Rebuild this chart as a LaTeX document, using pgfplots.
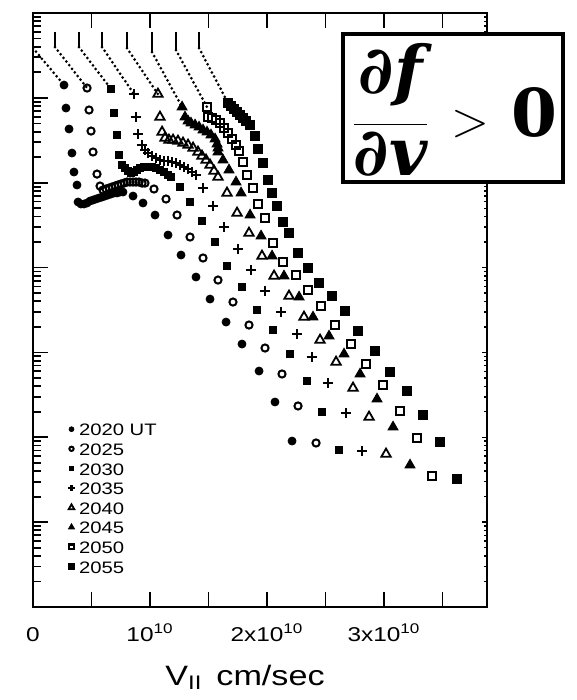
\documentclass[border=0pt]{standalone}
\usepackage{pgfplots}
\pgfplotsset{compat=1.18}
\usepackage{fontspec}
\setmainfont{Liberation Sans}
\newfontfamily\leroy[FakeStretch=1.22]{Liberation Sans}
\newfontfamily\eqfont{DejaVu Serif}
\begin{document}
\begin{tikzpicture}
\pgfplotsset{
  frame/.style={
    at={(16.5pt,-303.5pt)}, anchor=south west,
    scale only axis, width=227pt, height=297pt,
    xmin=0, xmax=3.88, ymin=0, ymax=7,
    axis line style={line width=1.3pt},
    tick align=inside,
    ytick={0,...,7}, yticklabels={},
    minor ytick={0.301,0.477,0.602,0.699,0.778,0.845,0.903,0.954,
      1.301,1.477,1.602,1.699,1.778,1.845,1.903,1.954,
      2.301,2.477,2.602,2.699,2.778,2.845,2.903,2.954,
      3.301,3.477,3.602,3.699,3.778,3.845,3.903,3.954,
      4.301,4.477,4.602,4.699,4.778,4.845,4.903,4.954,
      5.301,5.477,5.602,5.699,5.778,5.845,5.903,5.954,
      6.301,6.477,6.602,6.699,6.778,6.845,6.903,6.954},
  },
  bar/.style={forget plot, line width=1.4pt},
  dots/.style={forget plot, line width=1.5pt, line cap=round, dash pattern=on 0pt off 2.3pt},
}
% right-hand frame: short log ticks only
\begin{axis}[frame, hide x axis, axis y line*=right,
  major tick length=2.5pt, minor tick length=1.5pt,
  every tick/.style={line width=0.7pt}]
\end{axis}
% main frame with the eight time series
\begin{axis}[frame,
  ytick pos=left,
  xtick={0,0.5,...,3.5},
  xticklabels={0,,10\textsuperscript{10},,2x10\textsuperscript{10},,3x10\textsuperscript{10},},
  xtick pos=both,
  major tick length=7.5pt, minor tick length=4pt,
  every tick/.style={line width=0.9pt},
  xticklabel style={anchor=base, yshift=-17pt, font=\leroy\fontsize{10}{12}\selectfont},
  xlabel={V\textsubscript{II}\hspace{0.5em}cm/sec},
  xlabel style={at={(axis description cs:0.467,0)}, anchor=base, yshift=-39pt,
    font=\leroy\fontsize{14}{16}\selectfont},
  legend style={at={(axis cs:0.299,2.192)}, anchor=north west, draw=none, fill=none,
    inner sep=0pt, row sep=2pt, column sep=1.6pt,
    font=\leroy\fontsize{8.3}{10}\selectfont,
    nodes={inner sep=0.6pt, text height=6.6pt, text depth=0pt, anchor=west}},
  legend cell align=left,
  legend image code/.code={\draw[#1,/tikz/every mark/.append style={scale=0.6}] plot coordinates {(0pt,0pt)};},
]
% guide lines: short bar and dotted run-in to the first point of each series
\addplot[dots] coordinates {(0,6.587)(0.265,6.151)};
\addplot[bar] coordinates {(0.188,6.776)(0.188,6.599)};
\addplot[dots] coordinates {(0.188,6.599)(0.462,6.116)};
\addplot[bar] coordinates {(0.393,6.776)(0.393,6.599)};
\addplot[dots] coordinates {(0.393,6.599)(0.667,6.104)};
\addplot[bar] coordinates {(0.590,6.776)(0.590,6.599)};
\addplot[dots] coordinates {(0.590,6.599)(0.863,6.045)};
\addplot[bar] coordinates {(0.803,6.776)(0.803,6.587)};
\addplot[dots] coordinates {(0.803,6.587)(1.068,6.045)};
\addplot[bar] coordinates {(1.017,6.776)(1.017,6.540)};
\addplot[dots] coordinates {(1.017,6.540)(1.274,5.892)};
\addplot[bar] coordinates {(1.222,6.776)(1.222,6.564)};
\addplot[dots] coordinates {(1.222,6.564)(1.487,5.892)};
\addplot[bar] coordinates {(1.419,6.776)(1.419,6.587)};
\addplot[dots] coordinates {(1.419,6.587)(1.667,5.939)};

% 2020 UT
\addplot[only marks, mark=*, mark size=2.0pt] coordinates {
(0.265,6.151)(0.282,5.880)(0.308,5.633)(0.333,5.350)(0.350,5.126)(0.376,4.973)
(0.385,4.773)(0.410,4.749)(0.436,4.749)(0.462,4.761)(0.487,4.784)(0.513,4.796)
(0.538,4.808)(0.564,4.820)(0.590,4.831)(0.615,4.843)(0.641,4.855)(0.667,4.867)
(0.692,4.879)(0.718,4.879)(0.744,4.890)(0.769,4.890)
(0.855,4.843)(0.940,4.761)(1.043,4.619)(1.154,4.384)(1.265,4.148)(1.393,3.889)
(1.513,3.629)(1.650,3.358)(1.786,3.099)(1.932,2.781)(2.068,2.416)(2.214,1.956)};
\addlegendentry{2020 UT}
% 2025
\addplot[only marks, mark=o, mark size=1.8pt, line width=1pt] coordinates {
(0.462,6.116)(0.479,5.857)(0.496,5.609)(0.513,5.362)(0.547,5.102)(0.573,4.961)
(0.598,4.914)(0.624,4.926)(0.650,4.937)(0.675,4.949)(0.701,4.961)(0.726,4.973)
(0.752,4.985)(0.778,4.996)(0.803,5.008)(0.829,5.008)(0.855,5.008)(0.880,5.008)
(0.906,5.008)(0.932,4.996)(0.957,4.996)
(1.034,4.926)(1.137,4.808)(1.231,4.619)(1.342,4.360)(1.453,4.113)(1.581,3.853)
(1.709,3.594)(1.846,3.323)(1.983,3.052)(2.128,2.746)(2.265,2.369)(2.419,1.933)};
\addlegendentry{2025}
% 2030
\addplot[only marks, mark=square*, mark size=1.6pt] coordinates {
(0.667,6.104)(0.692,5.821)(0.718,5.562)(0.735,5.326)
(0.761,5.209)(0.786,5.173)(0.812,5.138)(0.838,5.114)(0.863,5.126)(0.889,5.150)
(0.915,5.173)(0.949,5.185)(0.983,5.185)(1.017,5.185)(1.051,5.173)(1.085,5.150)
(1.120,5.126)(1.154,5.091)(1.179,5.067)
(1.256,4.949)(1.342,4.773)(1.444,4.549)(1.556,4.301)(1.658,4.018)(1.786,3.771)
(1.915,3.500)(2.051,3.264)(2.197,2.981)(2.342,2.663)(2.470,2.298)(2.615,1.850)};
\addlegendentry{2030}
% 2035
\addplot[only marks, mark=+, mark size=2.6pt, line width=1.3pt] coordinates {
(0.863,6.045)(0.880,5.774)(0.897,5.574)
(0.932,5.444)(0.957,5.385)(0.983,5.350)(1.017,5.315)(1.051,5.291)(1.085,5.267)
(1.120,5.256)(1.154,5.256)(1.188,5.244)(1.222,5.232)(1.256,5.209)(1.291,5.185)
(1.325,5.161)(1.359,5.126)(1.393,5.091)
(1.453,4.937)(1.538,4.725)(1.632,4.478)(1.752,4.219)(1.863,3.971)(1.983,3.724)
(2.120,3.476)(2.256,3.217)(2.385,2.946)(2.521,2.640)(2.675,2.286)(2.812,1.838)};
\addlegendentry{2035}
% 2040
\addplot[only marks, mark=triangle, mark size=2.7pt, line width=0.9pt] coordinates {
(1.068,6.045)(1.085,5.774)
(1.103,5.597)(1.128,5.527)(1.162,5.503)(1.197,5.503)(1.239,5.491)(1.282,5.468)
(1.325,5.444)(1.368,5.409)(1.410,5.362)(1.444,5.315)(1.479,5.267)(1.513,5.209)
(1.547,5.138)(1.581,5.067)
(1.658,4.879)(1.744,4.643)(1.846,4.407)(1.957,4.136)(2.060,3.901)(2.188,3.665)
(2.316,3.417)(2.453,3.146)(2.590,2.887)(2.735,2.581)(2.872,2.239)(3.017,1.803)};
\addlegendentry{2040}
% 2045
\addplot[only marks, mark=triangle*, mark size=2.9pt] coordinates {
(1.274,5.892)
(1.299,5.774)(1.325,5.727)(1.350,5.703)(1.385,5.680)(1.419,5.656)(1.453,5.621)
(1.487,5.597)(1.521,5.562)(1.556,5.515)(1.573,5.456)(1.581,5.409)
(1.581,5.362)(1.624,5.267)(1.675,5.150)(1.735,5.008)(1.778,4.879)(1.855,4.619)
(1.949,4.372)(2.043,4.136)(2.145,3.901)(2.274,3.653)(2.393,3.417)(2.530,3.193)
(2.658,2.981)(2.795,2.746)(2.940,2.451)(3.077,2.121)(3.222,1.673)};
\addlegendentry{2045}
% 2050
\addplot[only marks, mark=square, mark size=1.9pt, line width=1.1pt] coordinates {
(1.487,5.892)
(1.496,5.774)(1.530,5.762)(1.564,5.739)(1.598,5.703)(1.632,5.645)(1.667,5.586)
(1.701,5.515)(1.735,5.444)
(1.761,5.374)(1.795,5.244)(1.829,5.091)(1.880,4.937)(1.923,4.749)(1.983,4.584)
(2.051,4.289)(2.137,4.065)(2.248,3.912)(2.350,3.736)(2.462,3.547)(2.581,3.323)
(2.718,3.099)(2.846,2.864)(2.991,2.616)(3.137,2.310)(3.282,1.991)(3.410,1.544)};
\addlegendentry{2050}
% 2055
\addplot[only marks, mark=square*, mark size=2.2pt] coordinates {
(1.667,5.939)(1.692,5.904)(1.718,5.868)(1.744,5.833)(1.769,5.798)(1.795,5.762)
(1.821,5.727)(1.855,5.680)
(1.897,5.550)(1.923,5.397)(1.966,5.232)(2.009,5.032)(2.043,4.879)(2.085,4.725)
(2.137,4.537)(2.188,4.407)(2.265,4.172)(2.350,3.995)(2.444,3.818)(2.556,3.665)
(2.667,3.488)(2.778,3.252)(2.923,3.017)(3.051,2.769)(3.197,2.545)(3.333,2.263)
(3.479,1.944)(3.624,1.508)};
\addlegendentry{2055}
\end{axis}
% annotation box
\begin{scope}[x=0.5pt, y=-0.5pt]
\useasboundingbox (0,0) rectangle (577,700);
\draw[line width=1.7pt, fill=white] (343,34) rectangle (563,182);
\node[anchor=base west, inner sep=0pt] at (351,137)
  {\fontsize{33}{40}\selectfont$\displaystyle
   \frac{\raisebox{5pt}{\eqfont\bfseries\itshape ∂f}}{\raisebox{-2pt}{\eqfont\bfseries\itshape ∂v}}
   \mathrel{\,>\,}\mbox{\eqfont\bfseries 0}$};
\end{scope}
\end{tikzpicture}
\end{document}
